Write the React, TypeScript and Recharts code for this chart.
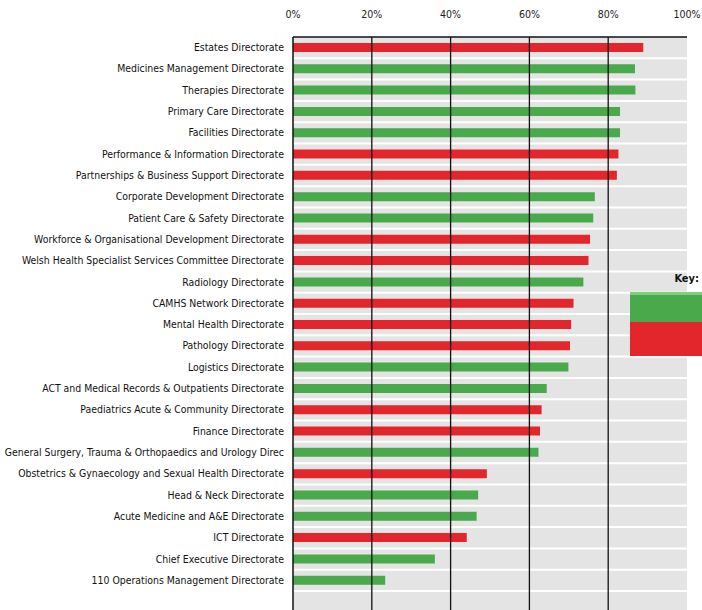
import {
  BarChart,
  Bar,
  Cell,
  XAxis,
  YAxis,
  CartesianGrid,
  ReferenceLine,
} from "recharts";

// Directorates, ranked by completion
const directorates = [
  "Estates Directorate",
  "Medicines Management Directorate",
  "Therapies Directorate",
  "Primary Care Directorate",
  "Facilities Directorate",
  "Performance & Information Directorate",
  "Partnerships & Business Support Directorate",
  "Corporate Development Directorate",
  "Patient Care & Safety Directorate",
  "Workforce & Organisational Development Directorate",
  "Welsh Health Specialist Services Committee Directorate",
  "Radiology Directorate",
  "CAMHS Network Directorate",
  "Mental Health Directorate",
  "Pathology Directorate",
  "Logistics Directorate",
  "ACT and Medical Records & Outpatients Directorate",
  "Paediatrics Acute & Community Directorate",
  "Finance Directorate",
  "General Surgery, Trauma & Orthopaedics and Urology Direc",
  "Obstetrics & Gynaecology and Sexual Health Directorate",
  "Head & Neck Directorate",
  "Acute Medicine and A&E Directorate",
  "ICT Directorate",
  "Chief Executive Directorate",
  "110 Operations Management Directorate",
];

// percentage complete
const completion = [
  88.9, 86.8, 86.9, 83.0, 83.0, 82.6, 82.2, 76.6, 76.2, 75.4, 75.0, 73.7, 71.2,
  70.6, 70.3, 69.9, 64.4, 63.1, 62.7, 62.3, 49.2, 47.0, 46.6, 44.1, 36.0, 23.4,
];

// G = green, R = red
const rating = [
  "R", "G", "G", "G", "G", "R", "R", "G", "G", "R", "R", "G", "R",
  "R", "R", "G", "G", "R", "R", "G", "R", "G", "G", "R", "G", "G",
];

const percentTicks = [0, 20, 40, 60, 80, 100];
const gridLines = [20, 40, 60, 80];
const keyRatings = ["G", "R"];

const ratingColors: Record<string, string> = {
  G: "#49a94b",
  R: "#e3262c",
};

const data = directorates.map((name, i) => ({
  name,
  value: completion[i],
  rating: rating[i],
}));

const labelFont = "'DejaVu Sans Condensed', 'Liberation Sans Narrow', sans-serif";
const bottomPad = 19;

// single-line category label (the default tick wraps long names)
const DirectorateTick = ({ x, y, payload }: any) => (
  <text
    x={x}
    y={y}
    dy={3.5}
    textAnchor="end"
    fontSize={10.4}
    fontFamily={labelFont}
    fill="#111"
  >
    {payload.value}
  </text>
);

const KeyBox = () => (
  <div
    style={{
      position: "absolute",
      left: 630,
      top: 272,
      width: 72,
      fontFamily: labelFont,
    }}
  >
    <div
      style={{
        textAlign: "right",
        fontWeight: "bold",
        fontSize: 11,
        color: "#111",
        paddingRight: 3,
        height: 20,
      }}
    >
      Key:
    </div>
    {keyRatings.map((r) => (
      <div
        key={r}
        style={{
          height: r === "G" ? 30 : 34,
          background: ratingColors[r],
          borderTop: r === "G" ? "3px solid #7fd07a" : "none",
          boxSizing: "border-box",
        }}
      />
    ))}
  </div>
);

const App = () => {
  return (
    <div style={{ position: "absolute", left: 0, top: 0, background: "#fff" }}>
      <BarChart
        width={702}
        height={610}
        data={data}
        layout="vertical"
        margin={{ top: 0, right: 15, bottom: 0, left: 0 }}
      >
        <CartesianGrid
          fill="#e4e4e4"
          vertical={false}
          stroke="#ffffff"
          strokeWidth={2}
          horizontalCoordinatesGenerator={({ offset }: any) => {
            // white separators between the rows of bars
            const row = (offset.height - bottomPad) / directorates.length;
            return directorates.map((_, i) => offset.top + (i + 1) * row);
          }}
        />
        <XAxis
          type="number"
          orientation="top"
          domain={[0, 100]}
          ticks={percentTicks}
          tickFormatter={(v) => `${v}%`}
          height={37}
          tickSize={0}
          tickMargin={19}
          axisLine={{ stroke: "#111", strokeWidth: 1.5 }}
          tick={{ fontSize: 10.5, fill: "#222", fontFamily: labelFont }}
        />
        <YAxis
          type="category"
          dataKey="name"
          width={293}
          tickSize={0}
          tickMargin={9}
          interval={0}
          padding={{ top: 0, bottom: bottomPad }}
          axisLine={{ stroke: "#111", strokeWidth: 1.5 }}
          tick={<DirectorateTick />}
        />
        {gridLines.map((g) => (
          <ReferenceLine key={g} x={g} stroke="#111" strokeWidth={1.3} />
        ))}
        <Bar dataKey="value" barSize={9} isAnimationActive={false}>
          {data.map((d) => (
            <Cell key={d.name} fill={ratingColors[d.rating]} />
          ))}
        </Bar>
      </BarChart>
      <KeyBox />
    </div>
  );
};

export default App;
